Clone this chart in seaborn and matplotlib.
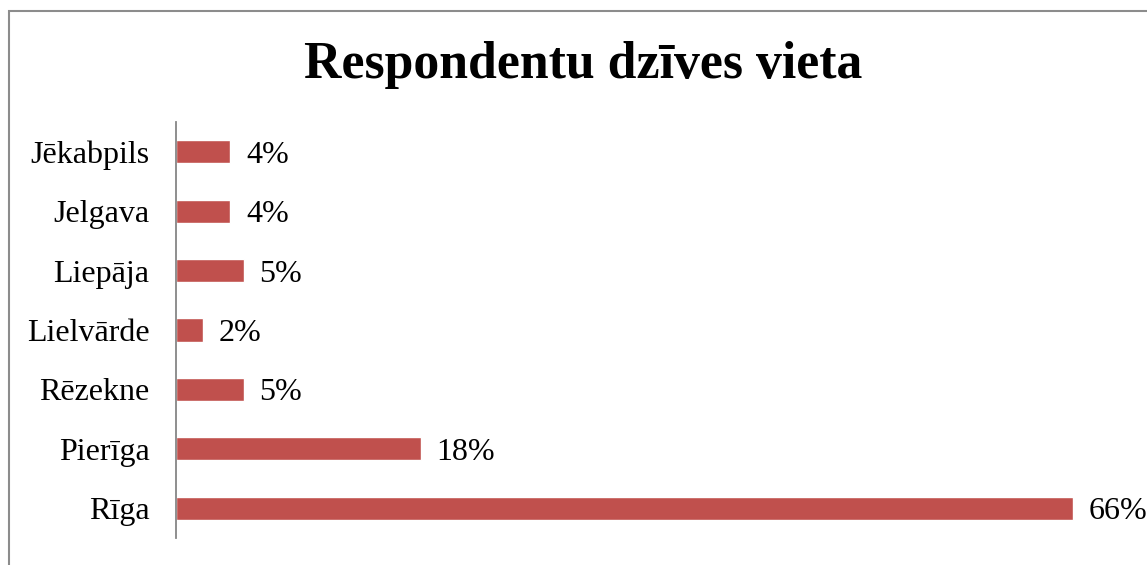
import seaborn as sns
import matplotlib.pyplot as plt
import pandas as pd
from matplotlib.patches import Rectangle

sns.set_style('white')
plt.rcParams['font.family'] = ['Liberation Serif', 'DejaVu Serif']
plt.rcParams['text.color'] = 'black'
plt.rcParams['ytick.color'] = 'black'

# dati
cities = ['Jēkabpils', 'Jelgava', 'Liepāja', 'Lielvārde', 'Rēzekne', 'Pierīga', 'Rīga']
shares = [4, 4, 5, 2, 5, 18, 66]

df = pd.DataFrame({'city': cities, 'share': shares})

W, H = 1147, 565
fig = plt.figure(figsize=(W / 100, H / 100), dpi=100)
ax = fig.add_axes([176 / W, (H - 538) / H, (W - 176) / W, (538 - 122) / H])

sns.barplot(data=df, x='share', y='city', orient='h', color='#C0504D',
            saturation=1, width=0.39, ax=ax)

ax.set_xlim(0, 71.45)
ax.set_ylim(6.5, -0.5)
ax.set_xlabel('')
ax.set_ylabel('')
ax.set_xticks([])
ax.tick_params(axis='y', length=0, pad=19, labelsize=23, labelcolor='black')

for s in ['top', 'right', 'bottom']:
    ax.spines[s].set_visible(False)
ax.spines['left'].set_color('#868686')
ax.spines['left'].set_linewidth(1.3)

for i, v in enumerate(shares):
    ax.text(v + 1.15, i, f'{v}%', va='center_baseline', ha='left', fontsize=23,
            color='black', clip_on=False)

fig.text(583 / W, 1 - 65 / H, 'Respondentu dzīves vieta', ha='center', va='center',
         fontsize=37.3, fontweight='bold', color='black')

# ramis ap diagrammu
fig.patches.append(Rectangle((9 / W, -0.1), 1.2, 1 - 11 / H + 0.1, transform=fig.transFigure,
                             fill=False, edgecolor='#8c8c8c', linewidth=1.5))

fig.savefig('out.png', dpi=100)
